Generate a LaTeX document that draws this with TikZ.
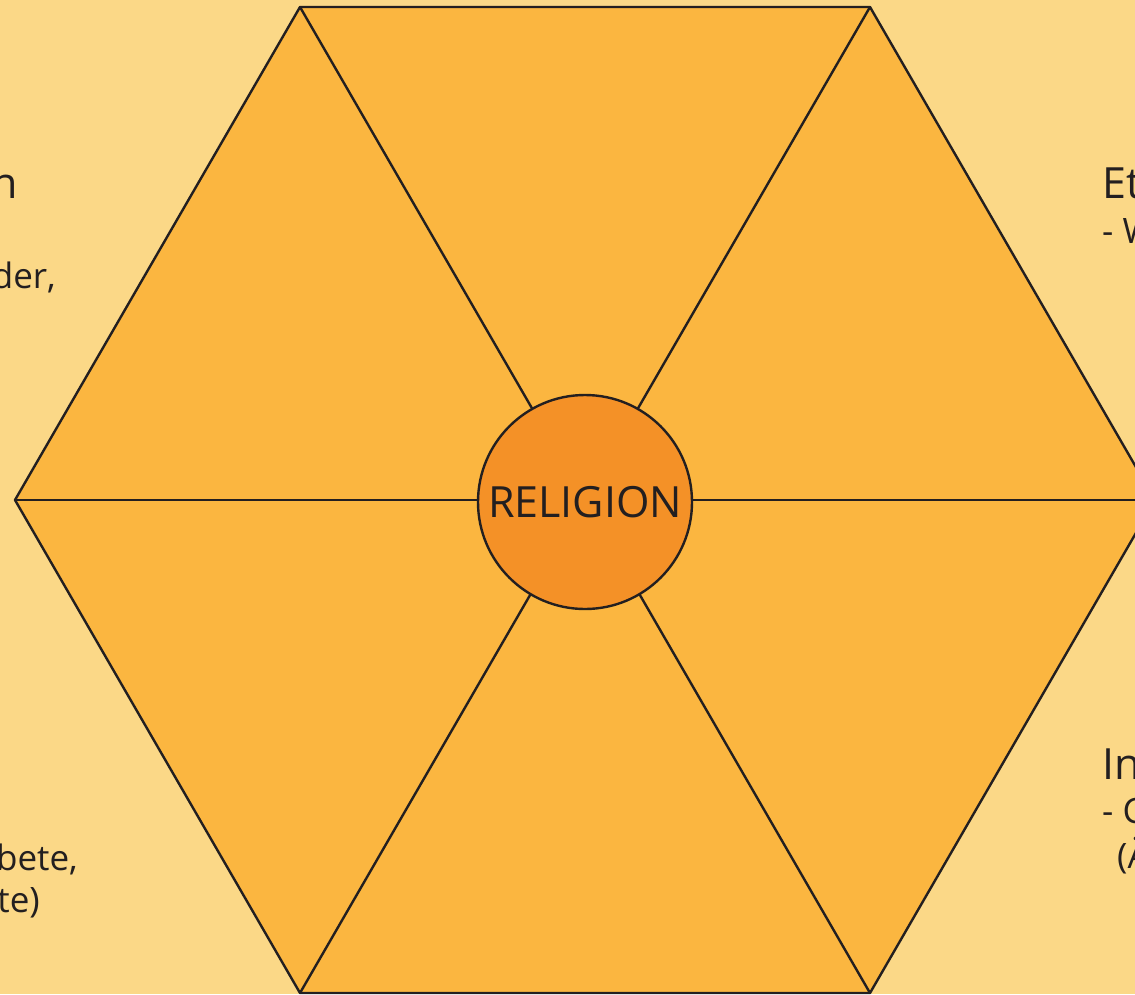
\documentclass[tikz,border=0pt]{standalone}
\usepackage{fontspec}
\setmainfont{Open Sans}

\definecolor{bgyellow}{RGB}{251,216,135}
\definecolor{wedgeorange}{RGB}{251,182,64}
\definecolor{huborange}{RGB}{244,145,39}
\definecolor{inkdark}{RGB}{35,31,32}

\tikzset{
  edge/.style={draw=inkdark, line width=2.4pt, line join=round},
  hub/.style={circle, edge, fill=huborange, minimum size=214pt, inner sep=0pt,
    text=inkdark, font=\fontsize{43}{50}\selectfont},
  title/.style={text=inkdark, inner sep=0pt, font=\fontsize{43}{50}\selectfont},
  body/.style={text=inkdark, inner sep=0pt, font=\fontsize{35}{42}\selectfont}
}

\begin{document}
\begin{tikzpicture}[x=1pt, y=-1pt]

  % Frame
  \useasboundingbox (0,0) rectangle (1135,994);
  \clip (0,0) rectangle (1135,994);
  \fill[bgyellow] (0,0) rectangle (1135,994);

  % Hexagon corners
  \coordinate (c) at (585,500);
  \coordinate (e) at (1155,500);
  \coordinate (ne) at (870,7);
  \coordinate (nw) at (300,7);
  \coordinate (w) at (15,500);
  \coordinate (sw) at (300,993);
  \coordinate (se) at (870,993);

  % Wedges
  \filldraw[edge, fill=wedgeorange] (e) -- (ne) -- (nw) -- (w) -- (sw) -- (se) -- cycle;
  \foreach \v in {e,ne,nw,w,sw,se}
    \draw[edge] (c) -- (\v);

  % Centre
  \node[hub] (religion) at (585,502) {RELIGION};

  % Left texts
  \node[title, anchor=base east] (lefttop) at (18,198) {n};
  \node[body, anchor=base east] (lefttopline) at (56,288) {der,};
  \node[body, anchor=base east] (leftlowline) at (78,870) {bete,};
  \node[body, anchor=base east] (leftlowend) at (40,912) {te)};

  % Right texts
  \node[title, anchor=base west] (righttop) at (1102,198) {Et};
  \node[body, anchor=base west] (righttopline) at (1102,243) {- W};
  \node[title, anchor=base west] (rightlow) at (1102,779) {In};
  \node[body, anchor=base west] (rightlowline) at (1102,823) {- C};
  \node[body, anchor=base west] (rightlowend) at (1117,868) {(Ä};

\end{tikzpicture}
\end{document}
